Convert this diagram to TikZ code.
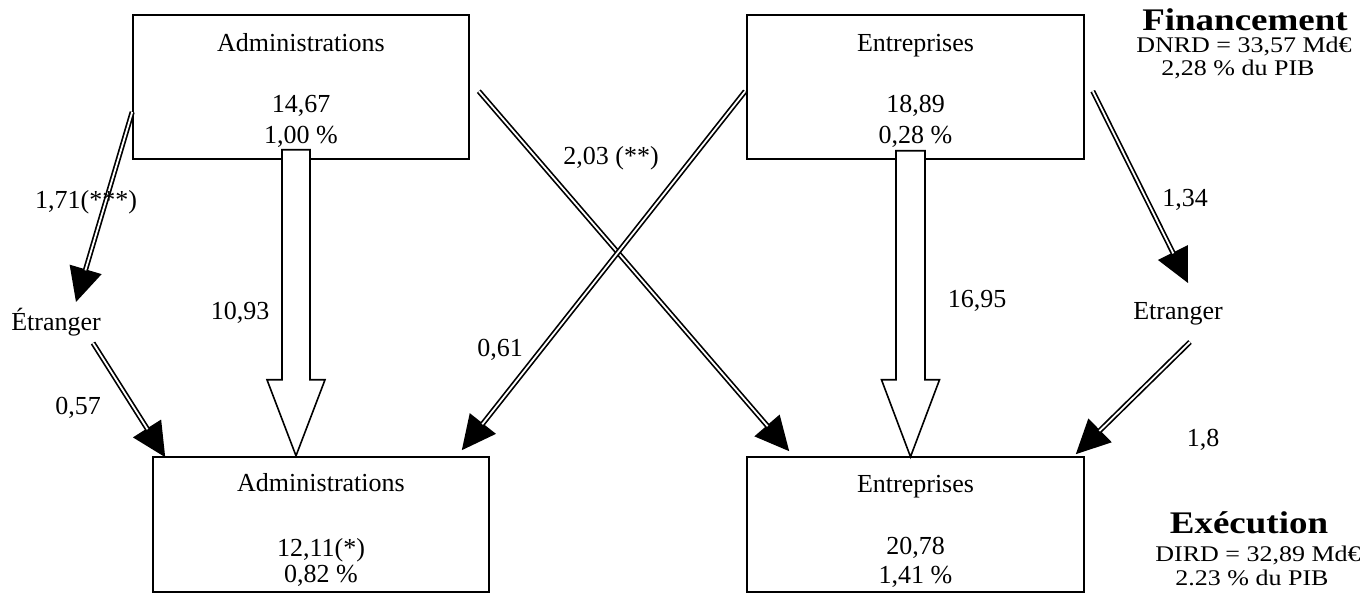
\documentclass[tikz,border=0pt]{standalone}
\usepackage{fontspec}
\setmainfont{Liberation Serif}
\usetikzlibrary{arrows.meta,calc}
\begin{document}
\begin{tikzpicture}[x=0.5pt,y=-0.5pt,
  box/.style={draw, line width=0.8pt, inner sep=0pt},
  txt/.style={font=\fontsize{13}{15}\selectfont, inner sep=0pt, anchor=base},
  ttl/.style={font=\bfseries\fontsize{18.5}{20}\selectfont, inner sep=0pt, anchor=base},
  headline/.style={line width=0.8pt, -{Triangle[length=17pt,width=16.5pt]}},
  dblline/.style={line width=0.85pt, double=white, double distance=0.9pt, shorten >=16.5pt},
  hollow/.style={draw, fill=white, line width=0.8pt, line join=miter}]
\useasboundingbox[fill=white] (0,0) rectangle (1360,603);

% boxes
\node[box, minimum width=168pt, minimum height=72pt] (tl) at (301,87) {};
\node[box, minimum width=168.5pt, minimum height=72pt] (tr) at (915.5,87) {};
\node[box, minimum width=168pt, minimum height=67.5pt] (bl) at (321,524.5) {};
\node[box, minimum width=168.5pt, minimum height=67.5pt] (br) at (915.5,524.5) {};

% box texts
\node[txt] (tlt) at (301,52) {Administrations};
\node[txt] (tlv) at (301,113) {14,67};
\node[txt] (tlp) at (301,144) {1,00 \%};
\node[txt] (trt) at (915.5,52) {Entreprises};
\node[txt] (trv) at (915.5,113) {18,89};
\node[txt] (trp) at (915.5,144) {0,28 \%};
\node[txt] (blt) at (321,492) {Administrations};
\node[txt] (blv) at (321,557) {12,11(*)};
\node[txt] (blp) at (321,583) {0,82 \%};
\node[txt] (brt) at (915.5,493) {Entreprises};
\node[txt] (brv) at (915.5,555) {20,78};
\node[txt] (brp) at (915.5,584) {1,41 \%};

% side nodes
\node[txt] (etl) at (56,331) {Étranger};
\node[txt] (etr) at (1178,320) {Etranger};

% titles (vertically compressed as in the reference)
\node[ttl] (fin) at (1245,31) {\scalebox{1}[0.85]{Financement}};
\node[txt] (dnrd) at (1244,53) {\scalebox{1}[0.86]{DNRD = 33,57 Md€}};
\node[txt] (pibf) at (1238,76) {\scalebox{1}[0.86]{2,28 \% du PIB}};
\node[ttl] (exe) at (1249,534) {\scalebox{1}[0.85]{Exécution}};
\node[txt] (dird) at (1258,562) {\scalebox{1}[0.86]{DIRD = 32,89 Md€}};
\node[txt] (pibe) at (1252,586) {\scalebox{1}[0.86]{2.23 \% du PIB}};

% hollow arrows
\draw[hollow] ($(tl.south)+(-19,-10)$) -- ++(28,0) -- ++(0,230) -- ++(15,0)
  -- ++(-29,76) -- ++(-29,-76) -- ++(15,0) -- cycle;
\draw[hollow] ($(tr.south)+(-19.5,-9)$) -- ++(29,0) -- ++(0,229) -- ++(14.5,0)
  -- ++(-29,77) -- ++(-29,-77) -- ++(14.5,0) -- cycle;

% connector end points
\coordinate (s1) at ($(tl.west)+(0,25)$);
\coordinate (e1) at ($(etl.base)+(20,-29)$);
\coordinate (s2) at ($(etl.base)+(37,12)$);
\coordinate (e2) at ($(bl.north west)+(13,1)$);
\coordinate (s3) at ($(tl.north east)+(9,77)$);
\coordinate (e3) at ($(br.north west)+(43,-5)$);
\coordinate (s4) at ($(tr.north west)+(-1,77)$);
\coordinate (e4) at ($(bl.north east)+(-28,-6)$);
\coordinate (s5) at ($(tr.north east)+(8,77)$);
\coordinate (e5) at ($(etr.base)+(10,-37)$);
\coordinate (s6) at ($(etr.base)+(12,22)$);
\coordinate (e6) at ($(br.north east)+(-9,-2)$);

% double-line arrows
\foreach \i in {1,...,6}{
  \draw[headline] (s\i) -- (e\i);
  \draw[dblline] (s\i) -- (e\i);
}

% flow labels
\node[txt] (l171) at (86,208.5) {1,71(***)};
\node[txt] (l057) at (78,415) {0,57};
\node[txt] (l1093) at (240,320) {10,93};
\node[txt] (l203) at (611,165) {2,03 (**)};
\node[txt] (l061) at (500,357) {0,61};
\node[txt] (l1695) at (977,308) {16,95};
\node[txt] (l134) at (1185,207) {1,34};
\node[txt] (l18) at (1203,447) {1,8};
\end{tikzpicture}
\end{document}
